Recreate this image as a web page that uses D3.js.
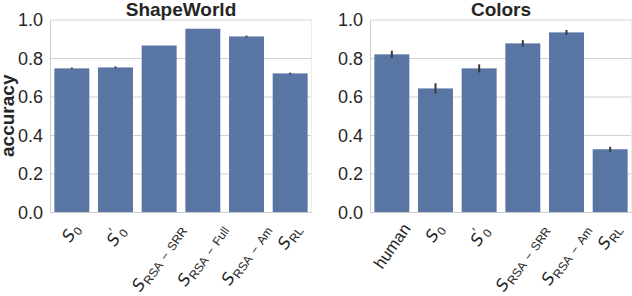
<!DOCTYPE html>
<html>
<head>
<meta charset="utf-8">
<script src="https://cdn.jsdelivr.net/npm/d3@7"></script>
<style>
  html, body { margin: 0; padding: 0; background: #fff; }
  svg { display: block; font-family: "Liberation Sans", Arial, sans-serif; }
</style>
</head>
<body>
<svg id="chart" width="632" height="296"></svg>
<script>
// ---- data ----
const shapeCategories = ["S_0", "S'_0", "S_RSA − SRR", "S_RSA − Full", "S_RSA − Am", "S_RL"];
const shapeValues     = [0.746, 0.751, 0.865, 0.952, 0.912, 0.720];
const shapeErrors     = [0.004, 0.005, 0.0, 0.0, 0.004, 0.004];

const colorsCategories = ["human", "S_0", "S'_0", "S_RSA − SRR", "S_RSA − Am", "S_RL"];
const colorsValues     = [0.819, 0.642, 0.746, 0.876, 0.933, 0.326];
const colorsErrors     = [0.019, 0.027, 0.021, 0.017, 0.013, 0.013];

const yTicks = [0.0, 0.2, 0.4, 0.6, 0.8, 1.0];
const panelTitles = ["ShapeWorld", "Colors"];
const yLabel = "accuracy";

// ---- layout ----
const svg = d3.select("#chart");
const TEXT = "#262626";
const BAR = "#5875a4";
const plotTop = 19.5, plotBottom = 212;
const panels = [
  {title: panelTitles[0], cats: shapeCategories, vals: shapeValues, errs: shapeErrors, x0: 50, x1: 312},
  {title: panelTitles[1], cats: colorsCategories, vals: colorsValues, errs: colorsErrors, x0: 370, x1: 632}
];

const y = d3.scaleLinear().domain([0, 1]).range([plotBottom, plotTop]);

function drawLabel(g, label) {
  const t = g.append("text").attr("fill", TEXT).attr("font-size", 16.5);
  if (!label.startsWith("S")) { t.text(label); return t; }
  const prime = label.startsWith("S'");
  const sub = label.split("_")[1].replace(/ − /g, "\u2009\u2009−\u2009\u2009");
  t.append("tspan").attr("font-family", "'DejaVu Sans', sans-serif").attr("font-style", "italic").text("S");
  if (prime) {
    t.append("tspan").attr("font-size", 13).attr("dy", -7).text("′");
    t.append("tspan").attr("font-size", 12).attr("dy", 10).text(sub);
  } else {
    t.append("tspan").attr("font-size", 12).attr("dx", 0.5).attr("dy", 3.5).text(sub);
  }
  return t;
}

panels.forEach((p, pi) => {
  const x = d3.scaleBand().domain(p.cats).range([p.x0, p.x1]).paddingInner(0.2).paddingOuter(0.1);
  const g = svg.append("g");

  // grid
  g.append("g")
    .attr("transform", `translate(${p.x0},0)`)
    .call(d3.axisLeft(y).tickValues(yTicks).tickSize(-(p.x1 - p.x0)).tickFormat(""))
    .call(a => a.select(".domain").remove())
    .call(a => a.selectAll("line").attr("stroke", "#d0d0d0").attr("stroke-width", 1));

  // frame
  g.append("line").attr("x1", p.x0).attr("x2", p.x1).attr("y1", plotTop).attr("y2", plotTop).attr("stroke", "#ececec");
  g.append("line").attr("x1", p.x1 - 0.5).attr("x2", p.x1 - 0.5).attr("y1", plotTop).attr("y2", plotBottom).attr("stroke", "#ececec");

  // bars
  g.selectAll("rect.bar").data(p.vals).join("rect")
    .attr("class", "bar")
    .attr("x", (d, i) => x(p.cats[i]))
    .attr("width", x.bandwidth())
    .attr("y", d => y(d))
    .attr("height", d => y(0) - y(d))
    .attr("fill", BAR);

  // error bars
  g.selectAll("line.err").data(p.vals).join("line")
    .attr("class", "err")
    .attr("x1", (d, i) => x(p.cats[i]) + x.bandwidth() / 2)
    .attr("x2", (d, i) => x(p.cats[i]) + x.bandwidth() / 2)
    .attr("y1", (d, i) => y(d - p.errs[i]))
    .attr("y2", (d, i) => y(d + p.errs[i]))
    .attr("stroke", "#3a3a3a").attr("stroke-width", 2);

  // y axis
  g.append("g")
    .attr("transform", `translate(${p.x0},0)`)
    .call(d3.axisLeft(y).tickValues(yTicks).tickSize(0).tickPadding(7).tickFormat(d3.format(".1f")))
    .call(a => a.select(".domain").attr("stroke", "#cccccc"))
    .call(a => a.selectAll("text").attr("font-size", 18).attr("fill", TEXT)
      .attr("font-family", "'Liberation Sans', Arial, sans-serif").attr("dy", "0.36em"));

  // x axis
  const xa = g.append("g")
    .attr("transform", `translate(0,${plotBottom})`)
    .call(d3.axisBottom(x).tickSize(0).tickFormat(""));
  xa.select(".domain").attr("stroke", "#cccccc");

  p.cats.forEach(c => {
    const outer = g.append("g");
    const inner = outer.append("g").attr("transform", "rotate(-55)");
    drawLabel(inner, c);
    const bb = outer.node().getBBox();
    const cx = x(c) + x.bandwidth() / 2;
    outer.attr("transform", `translate(${cx - (bb.x + bb.width / 2)},${plotBottom + 8 - bb.y})`);
  });

  // title
  g.append("text")
    .attr("x", (p.x0 + p.x1) / 2).attr("y", 16)
    .attr("text-anchor", "middle")
    .attr("font-size", 19).attr("font-weight", "bold").attr("fill", TEXT)
    .text(p.title);
});

// y label
svg.append("text")
  .attr("transform", `translate(13.5,${(plotTop + plotBottom) / 2}) rotate(-90)`)
  .attr("text-anchor", "middle")
  .attr("font-size", 19).attr("font-weight", "bold").attr("fill", TEXT)
  .text(yLabel);
</script>
</body>
</html>
